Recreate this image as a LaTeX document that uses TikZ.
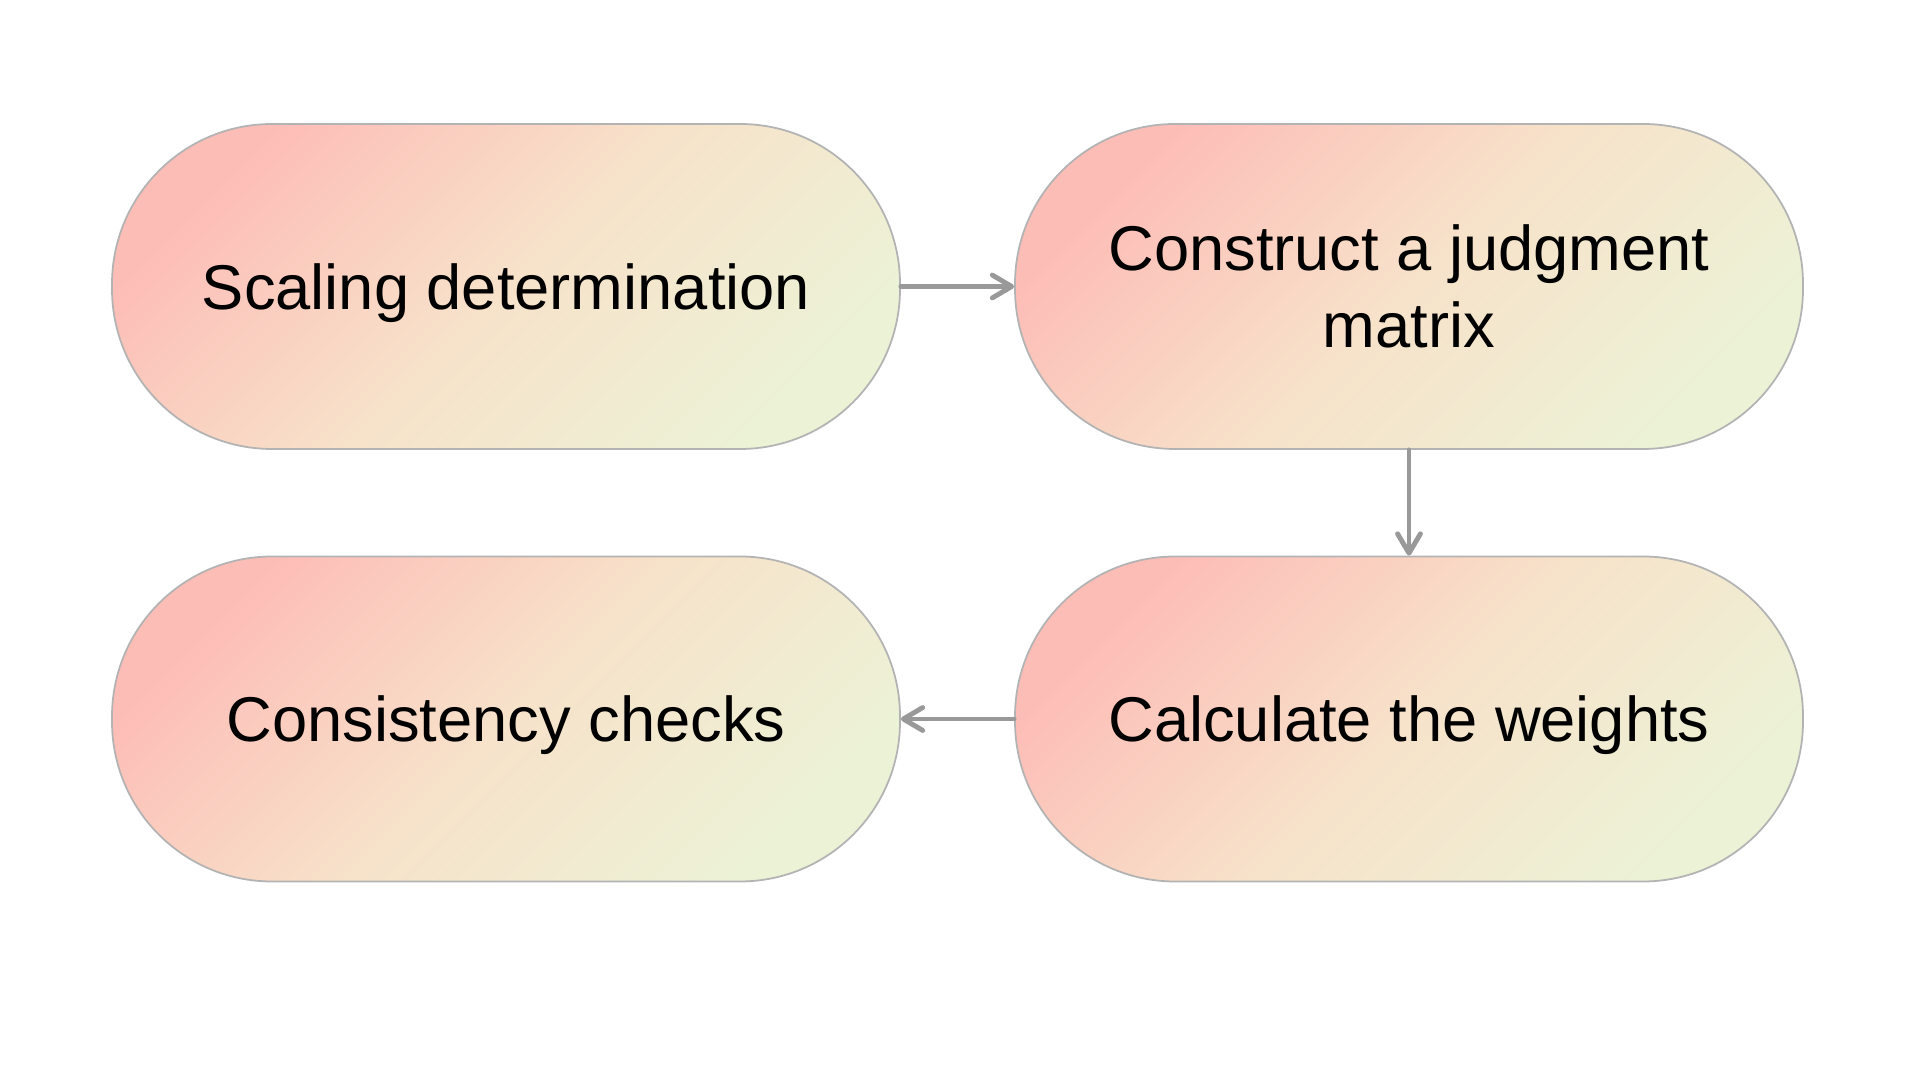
\documentclass[tikz,border=0pt]{standalone}
\usepackage{fontspec}
\setmainfont{Liberation Sans}
\usetikzlibrary{arrows.meta}
\definecolor{pinkc}{HTML}{FDBDB7}
\definecolor{midc}{HTML}{F7E2CA}
\definecolor{greenc}{HTML}{ECF2D6}
\definecolor{edgec}{HTML}{B3B3B3}
\definecolor{arrc}{HTML}{999999}
\begin{document}
\begin{tikzpicture}[
  stadium/.style={rectangle, rounded corners=1.6cm, minimum width=7.88cm,
    minimum height=3.25cm, inner sep=0pt, draw=edgec, line width=0.5pt,
    top color=pinkc, bottom color=greenc, middle color=midc, shading angle=45,
    align=center, font=\fontsize{18}{22}\selectfont},
  oneline/.style={text depth=0pt},
  flow/.style={draw=arrc, line width=1.4pt, line cap=round,
    -{Straight Barb[length=5.5pt,width=6.5pt,round]}}
]
\useasboundingbox (0,0) rectangle (19.2,10.8);
\node[stadium, oneline] (s1) at (5.06,7.935) {Scaling determination};
\node[stadium] (s2) at (14.09,7.935) {Construct a judgment\\matrix};
\node[stadium, oneline] (s3) at (14.09,3.61) {Calculate the weights};
\node[stadium, oneline] (s4) at (5.06,3.61) {Consistency checks};
\draw[flow] (s1.east) -- (s2.west);
\draw[flow] (s2.south) -- (s3.north);
\draw[flow] (s3.west) -- (s4.east);
\end{tikzpicture}
\end{document}
